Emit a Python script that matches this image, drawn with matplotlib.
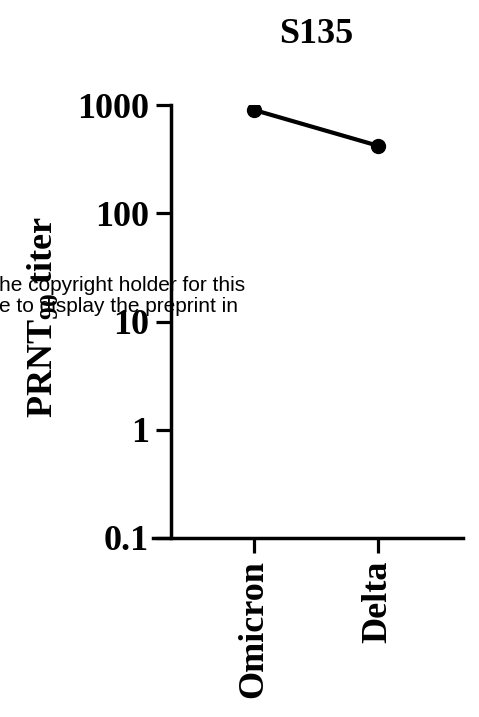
import numpy as np
import matplotlib
matplotlib.use("Agg")
import matplotlib.pyplot as plt
from matplotlib.ticker import FixedLocator, FixedFormatter, NullLocator

# PRNT90 titers for serum S135
variants = ["Omicron", "Delta"]
titers = [900, 420]
yticks = [0.1, 1, 10, 100, 1000]
yticklabels = ["0.1", "1", "10", "100", "1000"]

plt.rcParams['font.family'] = ['Liberation Serif', 'DejaVu Serif']
plt.rcParams['font.weight'] = 'bold'
plt.rcParams['mathtext.fontset'] = 'custom'
plt.rcParams['mathtext.bf'] = 'Liberation Serif:bold'

fig = plt.figure(figsize=(4.79, 7.17), dpi=100)
ax = fig.add_axes([153/479, 1 - 538/717, 310/479, (538 - 105)/717])

x = np.arange(len(variants))
ax.plot(x, titers, color='black', linewidth=3, marker='o', markersize=10)

ax.set_yscale('log')
ax.set_ylim(0.1, 1000)
ax.set_xlim(-0.815, 1.685)
ax.yaxis.set_major_locator(FixedLocator(yticks))
ax.yaxis.set_major_formatter(FixedFormatter(yticklabels))
ax.yaxis.set_minor_locator(NullLocator())
ax.set_xticks(x)
ax.set_xticklabels(variants, rotation=90)

for s in ['top', 'right']:
    ax.spines[s].set_visible(False)
ax.spines['left'].set_position(('axes', 18/310))
ax.spines['left'].set_linewidth(2.5)
ax.spines['bottom'].set_linewidth(2.5)
ax.tick_params(axis='both', which='major', length=11, width=2.3, pad=5,
               color='black', labelsize=26)
for lab in ax.get_xticklabels() + ax.get_yticklabels():
    lab.set_fontweight('bold')

ax.set_ylabel("PRNT$_{\\mathbf{90}}$ titer", fontsize=26, fontweight='bold')
ax.yaxis.set_label_coords(-0.3, 0.51)

fig.text(316/479, 1 - 43/717, "S135", ha='center', va='baseline',
         fontsize=26, fontweight='bold')

# preprint notice overlay
fig.text(245/479, 1 - 291/717, "he copyright holder for this", ha='right', va='baseline',
         fontsize=15, family='Liberation Sans', fontweight='normal', zorder=10)
fig.text(238/479, 1 - 312/717, "e to display the preprint in", ha='right', va='baseline',
         fontsize=15, family='Liberation Sans', fontweight='normal', zorder=10)

fig.savefig("out.png", dpi=100)
